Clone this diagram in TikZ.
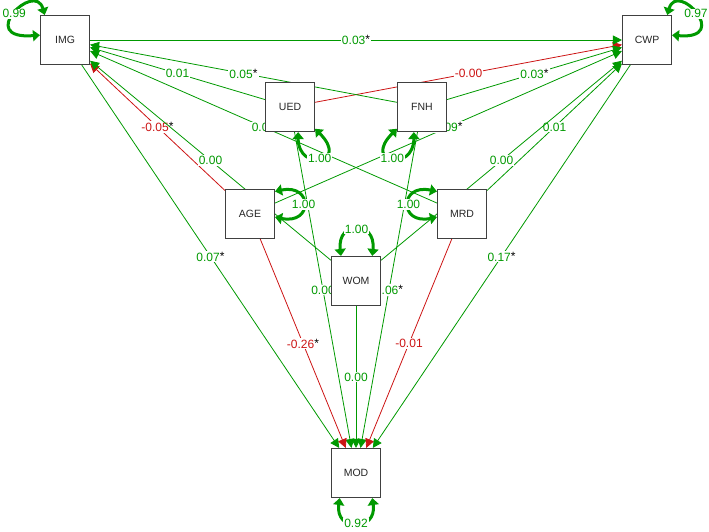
\documentclass[tikz,border=0pt]{standalone}
\usepackage{fontspec}
\setmainfont{Liberation Sans}
\usepackage{tikz, xcolor}
\usetikzlibrary{arrows.meta}
\pgfdeclarelayer{background}
\pgfsetlayers{background,main}
\definecolor{posgreen}{RGB}{0,153,0}
\definecolor{negred}{RGB}{204,20,20}
\newcommand{\starmark}{\textcolor{black}{\raisebox{1pt}{*}}}

\begin{document}
\begin{tikzpicture}[x=1pt, y=-1pt,
    obsbox/.style={draw=black!75, line width=1.1pt, fill=white, minimum width=49pt,
      minimum height=49pt, inner sep=0pt, text=black!85, font=\fontsize{10.5}{12}\selectfont},
    regpath/.style={line width=0.8pt, -{Triangle[length=9pt, width=9pt]}},
    coef/.style={fill=white, inner sep=1pt, font=\fontsize{12}{13}\selectfont},
    varloop/.style={color=posgreen, line width=3pt,
      {Triangle[length=7pt, width=11pt]}-{Triangle[length=7pt, width=11pt]}}]
    \useasboundingbox (0, 0) rectangle (709, 531);

    \node [obsbox] (IMG) at (65, 40) {IMG};
    \node [obsbox] (CWP) at (647, 40) {CWP};
    \node [obsbox] (UED) at (290, 107) {UED};
    \node [obsbox] (FNH) at (422, 107) {FNH};
    \node [obsbox] (AGE) at (250, 214) {AGE};
    \node [obsbox] (MRD) at (462, 214) {MRD};
    \node [obsbox] (WOM) at (356, 281) {WOM};
    \node [obsbox] (MOD) at (356, 473) {MOD};

    \begin{pgfonlayer}{background}
    \foreach \a/\b/\val/\col in {UED/IMG/0.01/posgreen, UED/CWP/-0.00/negred,
      UED/MOD/0.00/posgreen, FNH/IMG/0.05\starmark/posgreen,
      FNH/CWP/0.03\starmark/posgreen, FNH/MOD/0.06\starmark/posgreen,
      AGE/IMG/-0.05\starmark/negred, AGE/CWP/0.09\starmark/posgreen,
      AGE/MOD/-0.26\starmark/negred, MRD/IMG/0.00/posgreen,
      MRD/CWP/0.01/posgreen, MRD/MOD/-0.01/negred,
      WOM/IMG/0.00/posgreen, WOM/CWP/0.00/posgreen, WOM/MOD/0.00/posgreen,
      IMG/CWP/0.03\starmark/posgreen, IMG/MOD/0.07\starmark/posgreen,
      CWP/MOD/0.17\starmark/posgreen}
    {
      \draw [regpath, color=\col] (\a) to node [coef, text=\col] {\val} (\b);
    }
    \end{pgfonlayer}

    \draw [varloop] (IMG.129) .. controls +(-10, -35) and +(-65, 5) .. (IMG.169)
      node [coef, pos=0.5] {0.99};
    \draw [varloop] (CWP.51) .. controls +(10, -35) and +(60, 5) .. (CWP.11)
      node [coef, pos=0.5] {0.97};
    \draw [varloop] (MOD.237) .. controls +(-5, 34) and +(5, 34) .. (MOD.303)
      node [coef, pos=0.5] {0.92};
    \draw [varloop] (AGE.42) .. controls +(38, -8) and +(38, 8) .. (AGE.353)
      node [coef, pos=0.5] {1.00};
    \draw [varloop] (MRD.138) .. controls +(-38, -8) and +(-38, 8) .. (MRD.187)
      node [coef, pos=0.5] {1.00};
    \draw [varloop] (WOM.121) .. controls +(-4, -36) and +(4, -36) .. (WOM.57)
      node [coef, pos=0.5] {1.00};
    \draw [varloop] (UED.288) .. controls +(0, 40) and +(35, 35) .. (UED.319)
      node [coef, pos=0.5] {1.00};
    \draw [varloop] (FNH.252) .. controls +(0, 40) and +(-35, 35) .. (FNH.221)
      node [coef, pos=0.5] {1.00};

  \end{tikzpicture}
\end{document}
